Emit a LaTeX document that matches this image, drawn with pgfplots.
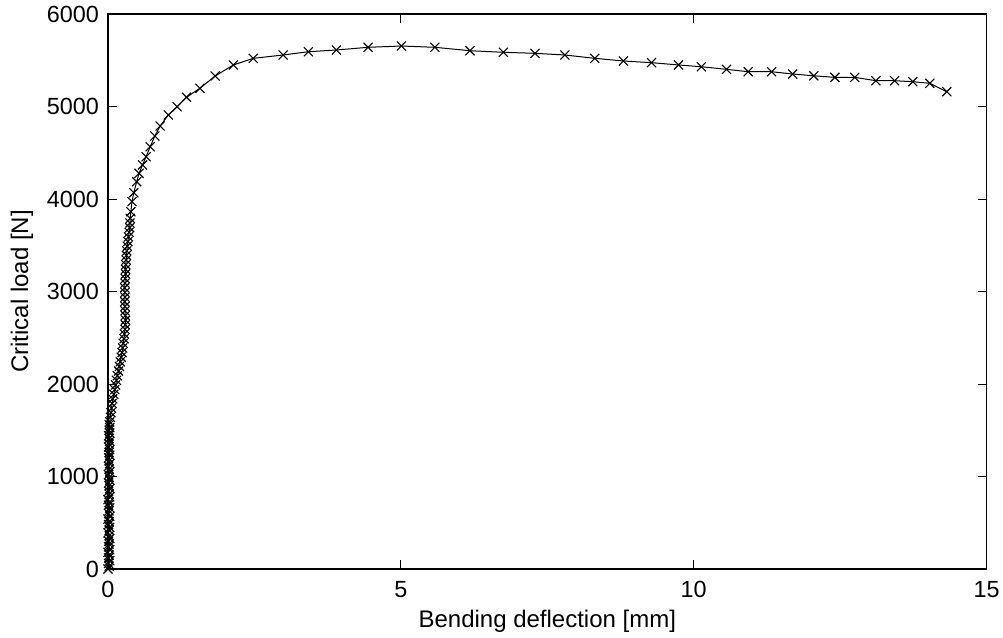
\documentclass[border=0pt]{standalone}
\usepackage{pgfplots}
\pgfplotsset{compat=1.18}
\usepackage{fontspec}
\setmainfont{Liberation Sans}
\begin{document}
\begin{tikzpicture}
\useasboundingbox (-54pt,-34.5pt) rectangle (447.5pt,284.5pt);
\begin{axis}[
  at={(0,0)}, anchor=south west,
  scale only axis,
  width=439.3pt, height=277.5pt,
  xmin=0, xmax=15, ymin=0, ymax=6000,
  xtick={0,5,10,15},
  ytick={0,1000,2000,3000,4000,5000,6000},
  scaled y ticks=false,
  /pgf/number format/1000 sep={},
  /pgf/number format/assume math mode=true,
  tick align=inside,
  xtick pos=both, ytick pos=both,
  xticklabel pos=lower, yticklabel pos=left,
  major tick length=4.4pt,
  axis line style={line width=0.6pt},
  tick style={line width=0.5pt, black},
  tick label style={font=\fontsize{11.7}{14}\selectfont},
  label style={font=\fontsize{12}{14.4}\selectfont},
  xticklabel style={yshift=-2.5pt},
  yticklabel style={xshift=-1pt},
  xlabel={Bending deflection [mm]},
  ylabel={Critical load [N]},
  xlabel style={at={(axis description cs:0.5,-0.1063)}, anchor=base},
  ylabel style={at={(axis description cs:-0.0908,0.5)}, anchor=base},
]
\addplot[black, line width=0.5pt, mark=x, mark size=3.2pt, mark options={line width=0.55pt}] coordinates {
(0,0) (0.02,30) (0.01,60) (0.03,90) (0.01,120) (0.02,150) (0.00,180) (0.03,210)
(0.01,240) (0.02,270) (0.01,300) (0.03,330) (0.02,360) (0.00,390) (0.02,420)
(0.03,450) (0.01,480) (0.02,510) (0.00,540) (0.03,570) (0.01,600) (0.02,630)
(0.03,660) (0.01,690) (0.02,720) (0.00,750) (0.03,780) (0.02,810) (0.01,840)
(0.03,870) (0.02,900) (0.01,930) (0.03,960) (0.02,990) (0.01,1020) (0.03,1050)
(0.02,1080) (0.01,1110) (0.03,1140) (0.02,1170) (0.01,1200) (0.03,1230)
(0.02,1260) (0.03,1290) (0.01,1320) (0.02,1350) (0.03,1380) (0.02,1410)
(0.01,1440) (0.03,1470) (0.02,1500) (0.03,1530) (0.02,1560) (0.03,1590)
(0.04,1640) (0.05,1690) (0.06,1740) (0.07,1790) (0.08,1840) (0.10,1890)
(0.115,1940) (0.13,1990) (0.145,2040) (0.16,2090) (0.18,2140) (0.195,2190)
(0.21,2240) (0.225,2290) (0.24,2340) (0.25,2390) (0.26,2440) (0.275,2490)
(0.28,2540) (0.29,2590) (0.295,2640) (0.30,2690) (0.295,2740) (0.29,2790)
(0.29,2840) (0.285,2890) (0.29,2940) (0.29,2990) (0.285,3040) (0.29,3090)
(0.295,3140) (0.30,3190) (0.30,3240) (0.305,3290) (0.31,3340) (0.315,3390)
(0.32,3440) (0.33,3490) (0.34,3540) (0.35,3590) (0.36,3640) (0.37,3690)
(0.375,3740) (0.38,3790) (0.39,3863) (0.41,3971) (0.44,4068) (0.49,4187)
(0.53,4278) (0.59,4368) (0.65,4457) (0.72,4565) (0.80,4681) (0.89,4789)
(1.03,4908) (1.18,4998) (1.34,5100) (1.57,5197) (1.83,5330) (2.14,5449)
(2.48,5521) (2.99,5557) (3.42,5592) (3.90,5611) (4.44,5640) (5.01,5654)
(5.58,5640) (6.18,5603) (6.75,5586) (7.29,5575) (7.80,5557) (8.31,5521)
(8.80,5492) (9.28,5474) (9.74,5449) (10.13,5430) (10.56,5402) (10.93,5376)
(11.33,5376) (11.69,5351) (12.05,5332) (12.41,5315) (12.75,5315) (13.11,5279)
(13.43,5279) (13.74,5268) (14.03,5251) (14.32,5160)
};
\end{axis}
\end{tikzpicture}
\end{document}
